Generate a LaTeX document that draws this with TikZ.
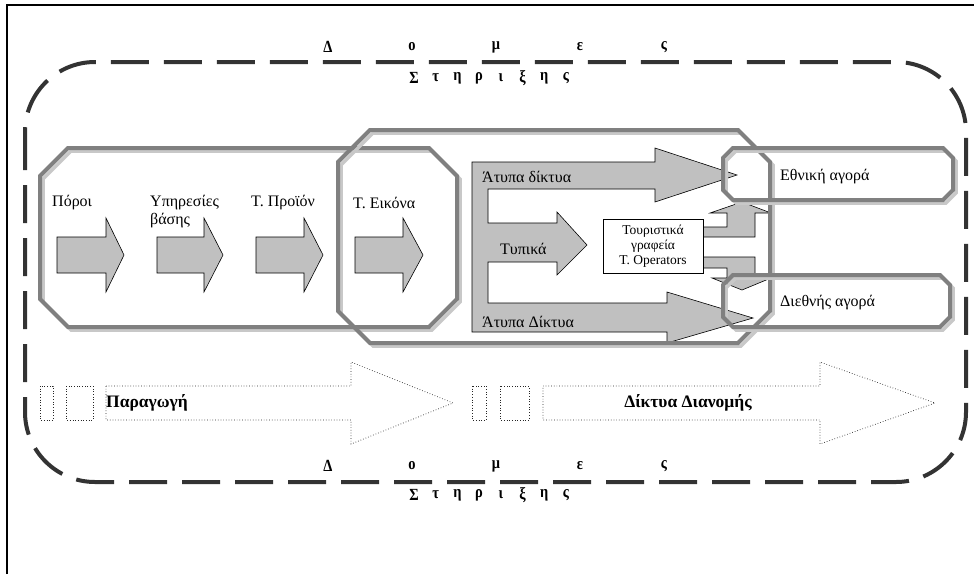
\documentclass[tikz,border=0pt]{standalone}
\usepackage{fontspec}
\setmainfont{Liberation Serif}
\definecolor{framedark}{HTML}{808080}
\definecolor{framelight}{HTML}{C8C8C8}
\definecolor{arrowgray}{HTML}{C0C0C0}
\definecolor{dashgray}{HTML}{333333}
\newcommand\shadowedframe[1]{\draw[lightline,shift={(3,3)}] #1;\draw[darkline] #1;}
\begin{document}
\begin{tikzpicture}[x=1pt,y=-1pt,
  darkline/.style={draw=framedark,line width=4pt,line join=miter},
  lightline/.style={draw=framelight,line width=3.5pt,line join=miter},
  blockarrow/.style={fill=arrowgray,draw=black,line width=0.6pt,line join=miter},
  dotarrow/.style={draw=black!85,dotted,line width=0.7pt},
  lbl/.style={font=\fontsize{16}{18}\selectfont,inner sep=0pt,anchor=west},
  domes/.style={font=\fontsize{17}{19}\selectfont\bfseries,inner sep=0pt,xscale=0.85},
  biglbl/.style={font=\fontsize{17.5}{20}\selectfont\bfseries,inner sep=0pt}]
\useasboundingbox (0,0) rectangle (974,574);
% page frame
\draw[line width=1.2pt] (7,574) -- (7,5) -- (974,5);
% dashed support frame
\draw[draw=dashgray,line width=4pt,dash pattern=on 38pt off 15pt,rounded corners=70pt]
  (25,62) rectangle (966,482);
% Domes Stirixis texts (top and bottom)
\foreach \ch/\xx [count=\i] in {Δ/328,ο/412,μ/496,ε/580,ς/664}{
  \node[domes] (dt\i) at (\xx,47) {\ch};
  \node[domes] (db\i) at (\xx,466) {\ch};}
\foreach \ch [count=\i] in {Σ,τ,η,ρ,ι,ξ,η,ς}{
  \node[domes] (st\i) at (414+21.7*\i-21.7,78) {\ch};
  \node[domes] (sb\i) at (414+21.7*\i-21.7,495) {\ch};}
% row block arrows
\foreach \sx/\hx/\tx [count=\i] in {57/106/124,157/204/223,256/304/323,355/403/423}{
  \draw[blockarrow] (\sx,237) -- (\hx,237) -- (\hx,218) -- (\tx,255) -- (\hx,292) -- (\hx,273) -- (\sx,273) -- cycle;}
\node[lbl] (poroi) at (52,203) {Πόροι};
\node[lbl] (ypir) at (150,203) {Υπηρεσίες};
\node[lbl] (vasis) at (150,221) {βάσης};
\node[lbl] (proion) at (251,203) {Τ. Προϊόν};
\node[lbl] (eikona) at (353,203) {Τ. Εικόνα};
% fork of distribution arrows
\draw[blockarrow] (472,162) -- (655,162) -- (655,148) -- (737,175) -- (655,202) -- (655,189)
  -- (488,189) -- (488,223) -- (557,223) -- (557,212) -- (587,245) -- (557,275) -- (557,262)
  -- (488,262) -- (488,303) -- (667,303) -- (667,292) -- (753,318) -- (667,343) -- (667,332)
  -- (472,332) -- cycle;
\node[lbl] (atypa1) at (482,177) {Άτυπα δίκτυα};
\node[lbl] (typika) at (500,249) {Τυπικά};
\node[lbl] (atypa2) at (482,322) {Άτυπα Δίκτυα};
% bent arrows from tour operators
\draw[blockarrow] (700,227) -- (727,227) -- (727,213) -- (710,213) -- (742,202) -- (771,213)
  -- (755,213) -- (755,237) -- (700,237) -- cycle;
\draw[blockarrow] (700,257) -- (755,257) -- (755,278) -- (771,278) -- (742,290) -- (712,278)
  -- (727,278) -- (727,268) -- (700,268) -- cycle;
\node[draw=black,line width=0.6pt,fill=white,minimum width=100pt,minimum height=54pt,
  inner sep=0pt,align=center,font=\fontsize{13.5}{15}\selectfont] (tour) at (653,246)
  {Τουριστικά\\γραφεία\\T. Operators};
% gray shadowed frames
\shadowedframe{(68,148) -- (429,148) -- (457,176) -- (457,299) -- (429,327) -- (68,327) -- (40,299) -- (40,176) -- cycle}
\shadowedframe{(370,130) -- (738,130) -- (770,162) -- (770,311) -- (738,343) -- (370,343) -- (338,311) -- (338,162) -- cycle}
\shadowedframe{(733,148) -- (943,148) -- (953,158) -- (953,190) -- (943,200) -- (733,200) -- (723,190) -- (723,158) -- cycle}
\shadowedframe{(733,275) -- (940,275) -- (950,285) -- (950,317) -- (940,327) -- (733,327) -- (723,317) -- (723,285) -- cycle}
\node[lbl] (ethniki) at (780,177) {Εθνική αγορά};
\node[lbl] (diethnis) at (780,303) {Διεθνής αγορά};
% dotted bottom arrows
\draw[dotarrow] (40,386) rectangle (53,420);
\draw[dotarrow] (66,386) rectangle (93,420);
\draw[dotarrow] (106,386) -- (351,386) -- (351,362) -- (453,403) -- (351,444) -- (351,420) -- (106,420) -- cycle;
\draw[dotarrow] (472,386) rectangle (486,420);
\draw[dotarrow] (500,386) rectangle (529,420);
\draw[dotarrow] (543,386) -- (820,386) -- (820,362) -- (935,403) -- (820,444) -- (820,420) -- (543,420) -- cycle;
\node[biglbl,anchor=west] (paragogi) at (106,403) {Παραγωγή};
\node[biglbl] (diktya) at (688,403) {Δίκτυα Διανομής};
\end{tikzpicture}
\end{document}
